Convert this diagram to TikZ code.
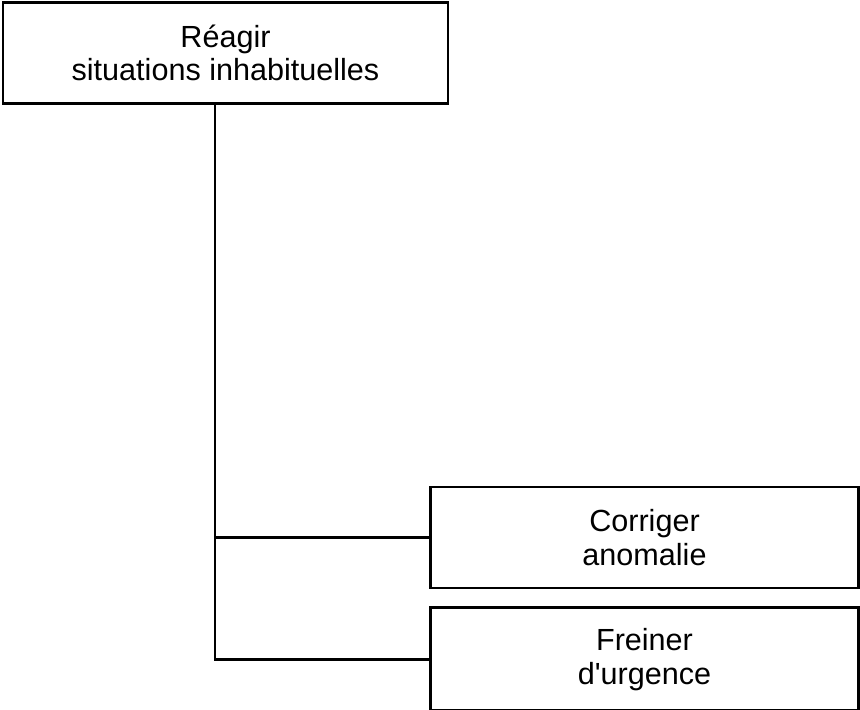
\documentclass[tikz,border=0pt]{standalone}
\usepackage{fontspec}
\setmainfont{Liberation Sans}
\usetikzlibrary{positioning}

\tikzset{
  tache/.style={draw, thick, align=center, minimum height=1.01cm, inner sep=0pt,
    font=\fontsize{8.7}{9.6}\selectfont},
}

\begin{document}
\begin{tikzpicture}
  \useasboundingbox (0,0) rectangle (8.6,-7.1);
  \node[tache, minimum width=4.45cm] (reagir) at (2.255,-0.53) {Réagir\\situations inhabituelles};
  \node[tache, minimum width=4.28cm] (corriger) at (6.445,-5.375) {Corriger\\anomalie};
  \node[tache, minimum width=4.28cm, minimum height=1.03cm, below=0.17cm of corriger] (freiner) {Freiner\\d\textquotesingle urgence};
  % tronc commun
  \coordinate (depart) at ([xshift=-0.105cm]reagir.south);
  \draw[thick] (depart) |- (corriger.west);
  \draw[thick] (depart) |- (freiner.west);
\end{tikzpicture}
\end{document}
